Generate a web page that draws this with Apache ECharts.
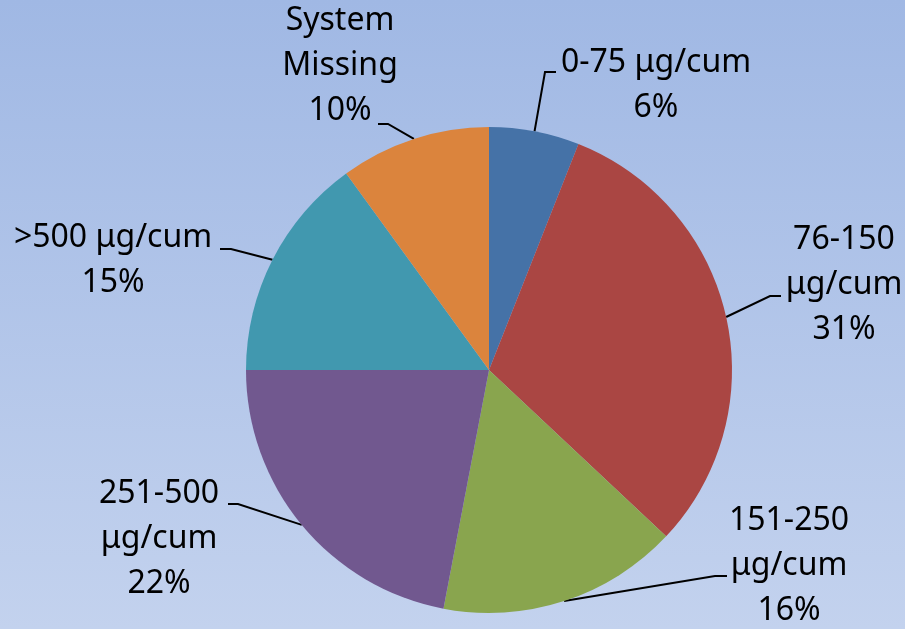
<!DOCTYPE html>
<html>
<head>
<meta charset="utf-8">
<script src="https://cdn.jsdelivr.net/npm/echarts@6/dist/echarts.min.js"></script>
<style>
  html, body { margin: 0; padding: 0; }
  #chart { width: 905px; height: 629px; }
</style>
</head>
<body>
<div id="chart"></div>
<script>
// Exposure categories and their share of respondents (%)
const categories = ['0-75 μg/cum', '76-150 μg/cum', '151-250 μg/cum', '251-500 μg/cum', '>500 μg/cum', 'System Missing'];
const shares = [6, 31, 16, 22, 15, 10];
// Whether a category label wraps onto two lines before the percentage
const wrapName = [false, true, true, true, false, true];
const sliceColors = ['#4572A7', '#AA4643', '#89A54E', '#71588F', '#4198AF', '#DB843D'];

// Label placement: text centre plus the elbow and end of each leader line
const labelPlacement = [
  { x: 656, y: 85,  elbow: [545, 72],  end: [556, 72] },
  { x: 844, y: 285, elbow: [770, 296], end: [781, 296] },
  { x: 789, y: 566, elbow: [715, 576], end: [727, 576] },
  { x: 159, y: 539, elbow: [238, 504], end: [228, 504] },
  { x: 113, y: 260, elbow: [231, 249], end: [220, 249] },
  { x: 340, y: 66,  elbow: [388, 124], end: [378, 124] }
];

const chart = echarts.init(document.getElementById('chart'), null, { renderer: 'canvas' });

chart.setOption({
  backgroundColor: {
    type: 'linear', x: 0, y: 0, x2: 0, y2: 1,
    colorStops: [
      { offset: 0, color: '#a0b8e4' },
      { offset: 1, color: '#c3d2ee' }
    ]
  },
  animation: false,
  series: [{
    type: 'pie',
    center: [489, 370],
    radius: 243,
    startAngle: 90,
    clockwise: true,
    data: categories.map((name, i) => ({
      name: name,
      value: shares[i],
      itemStyle: { color: sliceColors[i] }
    })),
    label: {
      show: true,
      position: 'outside',
      color: '#000',
      fontFamily: 'Noto Sans',
      fontSize: 32,
      lineHeight: 45,
      align: 'center',
      formatter: function (p) {
        const name = wrapName[p.dataIndex] ? p.name.replace(' ', '\n') : p.name;
        return name + '\n' + p.value + '%';
      }
    },
    labelLine: {
      show: true,
      lineStyle: { color: '#000', width: 2 }
    },
    labelLayout: function (params) {
      const pl = labelPlacement[params.dataIndex];
      const start = params.labelLinePoints ? params.labelLinePoints[0] : pl.elbow;
      return {
        x: pl.x,
        y: pl.y,
        align: 'center',
        verticalAlign: 'middle',
        labelLinePoints: [start, pl.elbow, pl.end]
      };
    },
    emphasis: { disabled: true }
  }]
});
</script>
</body>
</html>
